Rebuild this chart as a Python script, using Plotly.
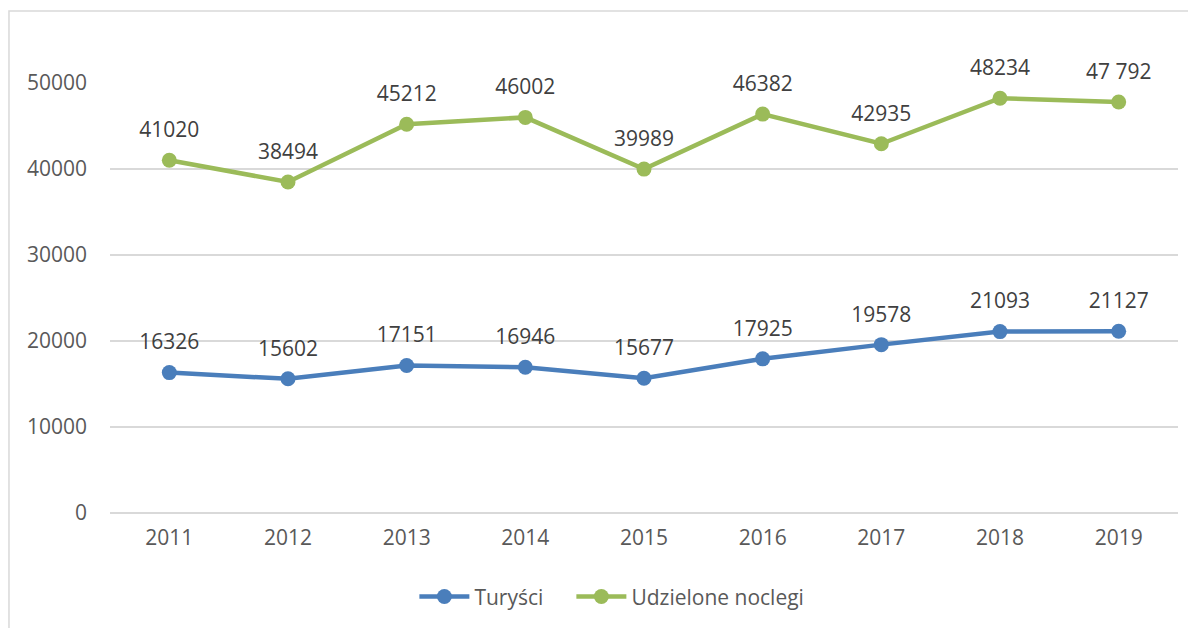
import plotly.graph_objects as go

years = ["2011", "2012", "2013", "2014", "2015", "2016", "2017", "2018", "2019"]
turysci = [16326, 15602, 17151, 16946, 15677, 17925, 19578, 21093, 21127]
noclegi = [41020, 38494, 45212, 46002, 39989, 46382, 42935, 48234, 47792]
turysci_labels = ["16326", "15602", "17151", "16946", "15677", "17925", "19578", "21093", "21127"]
noclegi_labels = ["41020", "38494", "45212", "46002", "39989", "46382", "42935", "48234", "47 792"]
y_ticks = [0, 10000, 20000, 30000, 40000, 50000]

BLUE = "#4A7EBB"
GREEN = "#9BBB59"
TXT = "#595959"
FONT = "Open Sans"
FS = 21

fig = go.Figure()
fig.add_trace(go.Scatter(x=years, y=turysci, name="Turyści", mode="lines+markers",
                         line=dict(color=BLUE, width=4.5), marker=dict(size=15, color=BLUE),
                         cliponaxis=False, legend="legend"))
fig.add_trace(go.Scatter(x=years, y=noclegi, name="Udzielone noclegi", mode="lines+markers",
                         line=dict(color=GREEN, width=4.5), marker=dict(size=15, color=GREEN),
                         cliponaxis=False, legend="legend2"))

# data labels: invisible large markers push the text above the points
for ys, labs in [(turysci, turysci_labels), (noclegi, noclegi_labels)]:
    fig.add_trace(go.Scatter(x=years, y=ys, text=labs, mode="markers+text",
                             textposition="top center",
                             textfont=dict(family=FONT, size=FS, color="#404040"),
                             marker=dict(size=27, color="rgba(0,0,0,0)"),
                             showlegend=False, hoverinfo="skip", cliponaxis=False))

fig.add_shape(type="rect", xref="paper", yref="paper", x0=-0.0946, x1=1.2, y0=-0.4, y1=1.1674,
              line=dict(color="#D9D9D9", width=1.5), fillcolor="rgba(0,0,0,0)", layer="below")

legend_common = dict(orientation="h", xanchor="left", y=-0.195, yanchor="middle",
                     font=dict(family=FONT, size=FS, color=TXT), itemwidth=50,
                     bgcolor="rgba(0,0,0,0)")

fig.update_layout(
    width=1196, height=628,
    paper_bgcolor="white", plot_bgcolor="white",
    margin=dict(l=102, r=26, t=75, b=123),
    font=dict(family=FONT, size=FS, color=TXT),
    showlegend=True,
    legend=dict(x=0.285, **legend_common),
    legend2=dict(x=0.432, **legend_common),
    xaxis=dict(type="category", range=[-0.5, 8.5], showgrid=False, zeroline=False,
               showline=False, ticks="", tickfont=dict(family=FONT, size=FS, color=TXT),
               ticklabelstandoff=10),
    yaxis=dict(range=[0, 50000], tickvals=y_ticks, ticktext=[str(v) for v in y_ticks],
               showgrid=True, gridcolor="#D9D9D9", gridwidth=1.5, zeroline=True,
               zerolinecolor="#D9D9D9", zerolinewidth=1.5, showline=False, ticks="",
               tickfont=dict(family=FONT, size=FS, color=TXT), ticklabelstandoff=22),
)

fig.write_html("out.html")
